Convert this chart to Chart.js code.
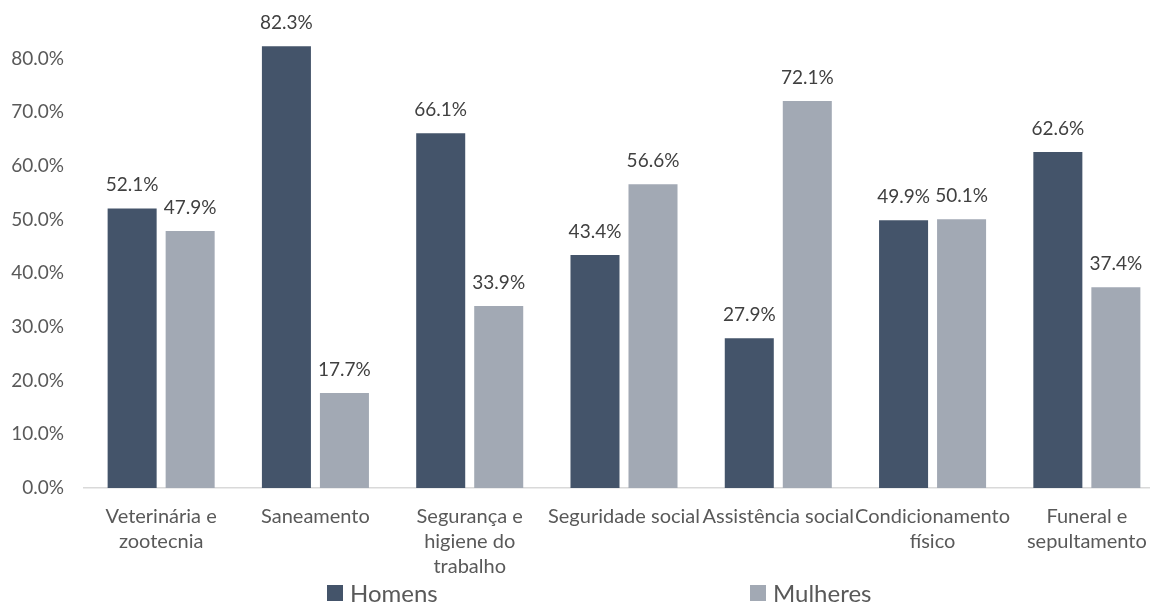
<!DOCTYPE html>
<html>
<head>
<meta charset="utf-8">
<script src="https://cdn.jsdelivr.net/npm/chart.js@4.4.1/dist/chart.umd.min.js"></script>
<style>
    html, body { margin: 0; padding: 0; background: #fff; overflow: hidden; }
    #wrap { position: relative; width: 1150px; height: 603px; overflow: hidden; }
    #chart { position: absolute; left: 0; top: 0; }
    #legend {
        position: absolute; left: 0; top: 579px; width: 1150px; height: 28px;
        font-family: Lato, sans-serif; font-size: 24px; color: #595959;
    }
    .item { position: absolute; top: 0; display: flex; align-items: center; line-height: 28px; }
    .box { width: 16px; height: 16px; margin-right: 7px; }
</style>
</head>
<body>
<div id="wrap">
    <!-- plot runs a little past the right edge, as in the cropped original -->
    <canvas id="chart" width="1164" height="603"></canvas>
    <div id="legend"></div>
</div>
<script>
// Data
const categories = [
    ['Veterinária e', 'zootecnia'],
    'Saneamento',
    ['Segurança e', 'higiene do', 'trabalho'],
    'Seguridade social',
    'Assistência social',
    ['Condicionamento', 'físico'],
    ['Funeral e', 'sepultamento']
];
const homens = [0.521, 0.823, 0.661, 0.434, 0.279, 0.499, 0.626];
const mulheres = [0.479, 0.177, 0.339, 0.566, 0.721, 0.501, 0.374];
const seriesNames = ['Homens', 'Mulheres'];
const seriesColors = ['#44546A', '#A2A9B4'];

const FONT = 'Lato, sans-serif';
const TEXT = '#595959';

function pct(v) {
    return (v * 100).toFixed(1) + '%';
}

// Value labels above each bar
const barLabels = {
    id: 'barLabels',
    afterDatasetsDraw(chart) {
        const ctx = chart.ctx;
        ctx.save();
        ctx.font = '19px ' + FONT;
        ctx.fillStyle = '#404040';
        ctx.textAlign = 'center';
        ctx.textBaseline = 'alphabetic';
        chart.data.datasets.forEach((ds, i) => {
            chart.getDatasetMeta(i).data.forEach((bar, j) => {
                ctx.fillText(pct(ds.data[j]), bar.x, bar.y - 17);
            });
        });
        ctx.restore();
    }
};

const ctx = document.getElementById('chart').getContext('2d');
new Chart(ctx, {
    type: 'bar',
    data: {
        labels: categories,
        datasets: [
            { label: seriesNames[0], data: homens, backgroundColor: seriesColors[0] },
            { label: seriesNames[1], data: mulheres, backgroundColor: seriesColors[1] }
        ]
    },
    options: {
        responsive: false,
        animation: false,
        categoryPercentage: 0.752,
        barPercentage: 0.845,
        layout: { padding: { top: 5, right: 0, left: 0, bottom: 0 } },
        plugins: {
            legend: { display: false },
            tooltip: { enabled: false }
        },
        scales: {
            x: {
                grid: { display: false, drawTicks: false },
                border: { display: true, color: '#D9D9D9', width: 1.5 },
                ticks: {
                    color: TEXT,
                    font: { family: FONT, size: 20, lineHeight: '25px' },
                    padding: 16,
                    maxRotation: 0,
                    autoSkip: false
                },
                afterFit(scale) {
                    scale.height = 115;
                    scale.paddingLeft = 0;
                    scale.paddingRight = 0;
                }
            },
            y: {
                min: 0,
                max: 0.9,
                grid: { display: false, drawTicks: false },
                border: { display: false },
                ticks: {
                    stepSize: 0.1,
                    color: TEXT,
                    padding: 20,
                    font: { family: FONT, size: 19 },
                    callback: v => v > 0.85 ? '' : pct(v)
                },
                afterFit(scale) {
                    scale.width = 84;
                    scale.paddingTop = 0;
                    scale.paddingBottom = 0;
                }
            }
        }
    },
    plugins: [barLabels]
});

// Legend
const legend = document.getElementById('legend');
const legendX = [327, 750];
seriesNames.forEach((name, i) => {
    const item = document.createElement('div');
    item.className = 'item';
    item.style.left = legendX[i] + 'px';
    item.innerHTML = `<span class="box" style="background:${seriesColors[i]}"></span><span>${name}</span>`;
    legend.appendChild(item);
});
</script>
</body>
</html>
